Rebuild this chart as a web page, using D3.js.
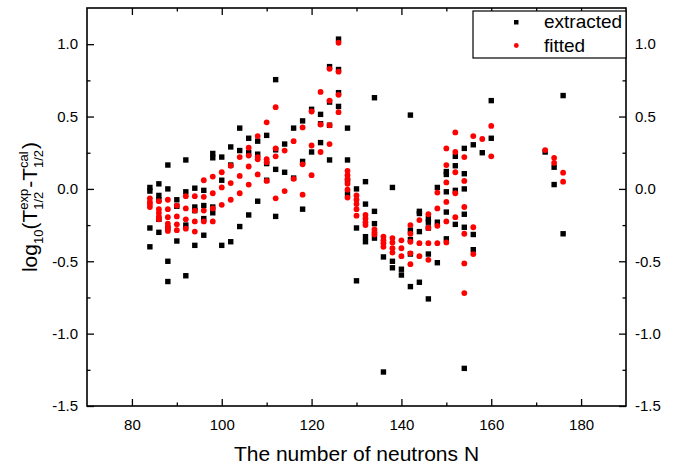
<!DOCTYPE html>
<html>
<head>
<meta charset="utf-8">
<script src="https://cdn.jsdelivr.net/npm/d3@7"></script>
<style>
body { margin: 0; background: #fff; }
svg text { font-family: Arial, "Liberation Sans", sans-serif; fill: #000; }
</style>
</head>
<body>
<div id="chart-area"></div>
<script>
// [N, log10 value]
const extracted = [
  [84,0.01],[84,-0.015],[84,-0.27],[84,-0.40],
  [86,0.035],[86,-0.045],[86,-0.075],[86,-0.21],[86,-0.30],
  [88,0.165],[88,0.0],[88,-0.27],[88,-0.50],[88,-0.64],
  [90,-0.075],[90,-0.12],[90,-0.36],
  [92,0.20],[92,-0.02],[92,-0.25],[92,-0.60],
  [94,0.005],[94,-0.125],[94,-0.15],[94,-0.39],
  [96,-0.01],[96,-0.115],[96,-0.205],[96,-0.32],
  [98,0.245],[98,0.215],[98,-0.125],[98,-0.165],
  [100,0.22],[100,0.06],[100,-0.39],
  [102,0.29],[102,0.165],[102,-0.365],
  [104,0.42],[104,0.265],[104,-0.26],
  [106,0.35],[106,0.25],[106,-0.18],
  [108,0.33],[108,0.24],[108,-0.085],
  [110,0.37],[110,0.175],[110,0.06],
  [112,0.755],[112,0.27],[112,0.135],[112,-0.19],
  [114,0.31],[114,0.115],
  [116,0.42],[116,0.075],
  [118,0.47],[118,0.19],[118,-0.14],
  [120,0.55],[120,0.255],
  [122,0.515],[122,0.45],[122,0.32],
  [124,0.845],[124,0.60],[124,0.44],[124,0.20],
  [126,1.035],[126,0.825],[126,0.665],[126,0.57],
  [128,0.42],[128,0.20],[128,0.06],[128,-0.035],
  [130,0.0],[130,-0.27],[130,-0.635],
  [132,0.05],[132,-0.105],[132,-0.33],[132,-0.365],
  [134,0.63],[134,-0.155],[134,-0.24],[134,-0.34],
  [136,-0.47],[136,-1.265],
  [138,0.01],[138,-0.50],[138,-0.545],
  [140,-0.555],[140,-0.595],
  [142,0.51],[142,-0.285],[142,-0.35],[142,-0.45],[142,-0.675],
  [144,-0.155],[144,-0.17],[144,-0.295],[144,-0.645],
  [146,-0.205],[146,-0.23],[146,-0.27],[146,-0.45],[146,-0.76],
  [148,0.01],[148,-0.23],[148,-0.51],
  [150,0.12],[150,0.10],[150,-0.02],[150,-0.16],[150,-0.345],
  [152,0.225],[152,0.16],[152,-0.01],[152,-0.245],
  [154,0.28],[154,0.105],[154,0.0],[154,-0.175],[154,-0.265],[154,-1.24],
  [156,0.305],[156,-0.315],[156,-0.42],
  [158,0.25],
  [160,0.61],[160,0.35],
  [172,0.255],
  [174,0.15],[174,0.03],
  [176,0.645],[176,-0.31]
]

const fitted = [
  [84,-0.065],[84,-0.09],[84,-0.105],[84,-0.125],
  [86,-0.085],[86,-0.14],[86,-0.165],[86,-0.19],[86,-0.21],
  [88,-0.075],[88,-0.14],[88,-0.195],[88,-0.24],[88,-0.265],[88,-0.29],
  [90,-0.115],[90,-0.19],[90,-0.245],[90,-0.285],
  [92,-0.05],[92,-0.135],[92,-0.21],[92,-0.275],
  [94,-0.05],[94,-0.15],[94,-0.225],[94,-0.295],
  [96,0.06],[96,-0.055],[96,-0.15],[96,-0.225],
  [98,0.085],[98,-0.03],[98,-0.135],[98,-0.225],
  [100,0.115],[100,0.01],[100,-0.11],
  [102,0.16],[102,0.04],[102,-0.075],
  [104,0.22],[104,0.09],[104,-0.03],
  [106,0.285],[106,0.23],[106,0.155],[106,0.03],
  [108,0.365],[108,0.22],[108,0.205],[108,0.10],
  [110,0.46],[110,0.205],[110,0.185],[110,0.055],
  [112,0.565],[112,0.28],[112,0.225],[112,-0.065],
  [114,0.265],[114,-0.015],
  [116,0.33],[116,0.07],
  [118,0.425],[118,0.17],[118,-0.04],
  [120,0.535],[120,0.30],[120,0.095],
  [122,0.67],[122,0.445],[122,0.255],
  [124,0.83],[124,0.61],[124,0.44],[124,0.31],
  [126,1.01],[126,0.81],[126,0.65],[126,0.53],
  [128,0.125],[128,0.095],[128,0.065],[128,0.035],[128,-0.005],[128,-0.06],
  [130,-0.045],[130,-0.075],[130,-0.105],[130,-0.14],[130,-0.185],
  [132,-0.18],[132,-0.205],[132,-0.23],[132,-0.25],
  [134,-0.28],[134,-0.30],[134,-0.315],
  [136,-0.33],[136,-0.355],[136,-0.375],[136,-0.40],
  [138,-0.34],[138,-0.37],[138,-0.41],[138,-0.44],
  [140,-0.355],[140,-0.41],[140,-0.465],
  [142,-0.25],[142,-0.31],[142,-0.365],[142,-0.445],[142,-0.52],
  [144,-0.215],[144,-0.375],[144,-0.465],
  [146,-0.175],[146,-0.27],[146,-0.375],[146,-0.49],
  [148,-0.025],[148,-0.135],[148,-0.255],[148,-0.375],
  [150,0.28],[150,0.165],[150,0.045],[150,-0.09],[150,-0.225],[150,-0.37],
  [152,0.39],[152,0.255],[152,0.115],[152,-0.03],[152,-0.195],
  [154,0.22],[154,0.055],[154,-0.125],[154,-0.31],[154,-0.515],[154,-0.72],
  [156,0.365],[156,-0.265],[156,-0.45],
  [158,0.345],
  [160,0.435],[160,0.225],
  [172,0.268],
  [174,0.215],[174,0.18],
  [176,0.112],[176,0.05]
]

const xMajor = [80, 100, 120, 140, 160, 180]
const xMinor = [90, 110, 130, 150, 170]
const yMajor = [-1.5, -1.0, -0.5, 0.0, 0.5, 1.0]
const yMinor = [-1.25, -0.75, -0.25, 0.25, 0.75]
const legendNames = ["extracted", "fitted"]

var cw = 698, ch = 466
var m = {l: 87, t: 8, r: 72, b: 60}
var w = cw - m.l - m.r
var h = ch - m.t - m.b

var svg = d3.select("#chart-area").append("svg")
    .attr("width", cw)
    .attr("height", ch)

var g = svg.append("g").attr("transform", "translate(" + m.l + "," + m.t + ")")

var x = d3.scaleLinear().domain([70, 190]).range([0, w])
var y = d3.scaleLinear().domain([-1.5, 1.25]).range([h, 0])

var fmt = d => d.toFixed(1)

function styleAxis(sel) {
    sel.selectAll("path.domain").remove()
    sel.selectAll(".tick line").attr("stroke", "#000").attr("stroke-width", 1.3)
    sel.selectAll(".tick text").attr("font-size", "15px").attr("font-family", null)
}

// major + minor ticks on all four sides, pointing inward
g.append("g").attr("transform", "translate(0," + h + ")")
    .call(d3.axisBottom(x).tickValues(xMajor).tickFormat(d3.format("d")).tickSize(-7).tickPadding(13))
    .call(styleAxis)
g.append("g").attr("transform", "translate(0," + h + ")")
    .call(d3.axisBottom(x).tickValues(xMinor).tickFormat("").tickSize(-3.5))
    .call(styleAxis)
g.append("g")
    .call(d3.axisTop(x).tickValues(xMajor).tickFormat("").tickSize(-7))
    .call(styleAxis)
g.append("g")
    .call(d3.axisTop(x).tickValues(xMinor).tickFormat("").tickSize(-3.5))
    .call(styleAxis)
g.append("g")
    .call(d3.axisLeft(y).tickValues(yMajor).tickFormat(fmt).tickSize(-7).tickPadding(9))
    .call(styleAxis)
g.append("g")
    .call(d3.axisLeft(y).tickValues(yMinor).tickFormat("").tickSize(-3.5))
    .call(styleAxis)
g.append("g").attr("transform", "translate(" + w + ",0)")
    .call(d3.axisRight(y).tickValues(yMajor).tickFormat(fmt).tickSize(-7).tickPadding(9))
    .call(styleAxis)
g.append("g").attr("transform", "translate(" + w + ",0)")
    .call(d3.axisRight(y).tickValues(yMinor).tickFormat("").tickSize(-3.5))
    .call(styleAxis)

g.append("rect")
    .attr("width", w)
    .attr("height", h)
    .attr("fill", "none")
    .attr("stroke", "#000")
    .attr("stroke-width", 1.6)

// points
var sq = 5.4
g.selectAll(".ext")
    .data(extracted)
    .enter()
    .append("rect")
    .attr("class", "ext")
    .attr("x", d => x(d[0]) - sq / 2)
    .attr("y", d => y(d[1]) - sq / 2)
    .attr("width", sq)
    .attr("height", sq)
    .attr("fill", "#000")

g.selectAll(".fit")
    .data(fitted)
    .enter()
    .append("circle")
    .attr("class", "fit")
    .attr("cx", d => x(d[0]))
    .attr("cy", d => y(d[1]))
    .attr("r", 2.9)
    .attr("fill", "#ff0000")

// legend
var legend = svg.append("g").attr("transform", "translate(473,11)")
legend.append("rect")
    .attr("width", 153)
    .attr("height", 47)
    .attr("fill", "#fff")
    .attr("stroke", "#000")
    .attr("stroke-width", 1.2)
legend.append("rect")
    .attr("x", 41).attr("y", 9)
    .attr("width", 4.5).attr("height", 4.5)
    .attr("fill", "#000")
legend.append("circle")
    .attr("cx", 43.3).attr("cy", 34.5)
    .attr("r", 2.4)
    .attr("fill", "#ff0000")
legend.selectAll(".leg-text")
    .data(legendNames)
    .enter()
    .append("text")
    .attr("class", "leg-text")
    .attr("x", 71)
    .attr("y", (d, i) => 17 + i * 24)
    .attr("font-size", "19px")
    .text(d => d)

// axis titles
svg.append("text")
    .attr("x", m.l + w / 2)
    .attr("y", 461)
    .attr("text-anchor", "middle")
    .attr("font-size", "21px")
    .text("The number of neutrons N")

var ylab = svg.append("text")
    .attr("transform", "translate(37," + (m.t + h / 2) + ") rotate(-90)")
    .attr("text-anchor", "middle")
    .attr("font-size", "21px")

ylab.append("tspan").text("log")
ylab.append("tspan").attr("font-size", "13px").attr("dy", 6).text("10")
ylab.append("tspan").attr("dy", -6).text("(T")
var sup1 = ylab.append("tspan").attr("font-size", "13px").attr("dy", -9).text("exp")
var sub1 = ylab.append("tspan").attr("font-size", "13px").attr("dy", 15).text("1/2")
var mid = ylab.append("tspan").attr("dy", -6).text("-T")
var sup2 = ylab.append("tspan").attr("font-size", "13px").attr("dy", -9).text("cal")
var sub2 = ylab.append("tspan").attr("font-size", "13px").attr("dy", 15).text("1/2")
var end = ylab.append("tspan").attr("dy", -6).text(")")

// stack the sub under the sup
function stack(sup, sub, next) {
    var a = sup.node().getComputedTextLength()
    var b = sub.node().getComputedTextLength()
    sub.attr("dx", -a)
    next.attr("dx", Math.max(a - b, 0) + 1)
}
stack(sup1, sub1, mid)
stack(sup2, sub2, end)
</script>
</body>
</html>
